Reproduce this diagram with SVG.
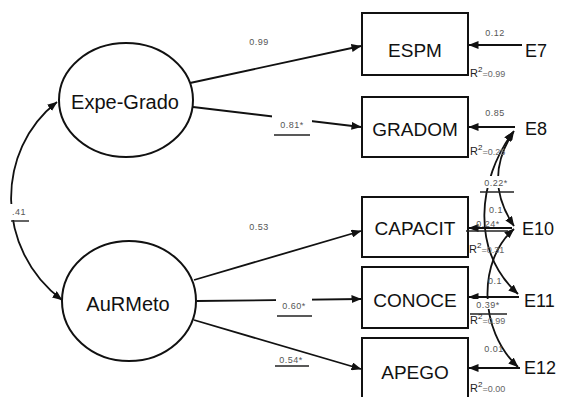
<svg xmlns="http://www.w3.org/2000/svg" width="563" height="397" viewBox="0 0 563 397">
<style>
  .node { fill: #fff; stroke: #111; stroke-width: 2; }
  .lbl { font-family: "Liberation Sans", Arial, sans-serif; fill: #111; text-anchor: middle; }
  .big { font-size: 20px; }
  .box { font-size: 19px; }
  .err { font-size: 18px; text-anchor: start; }
  .num { font-family: "Liberation Sans", Arial, sans-serif; font-size: 9px; fill: #555; text-anchor: middle; letter-spacing: 0.5px; }
  .r2 { font-family: "Liberation Sans", Arial, sans-serif; font-size: 11px; fill: #222; }
  .r2n { font-size: 9px; fill: #666; }
  .edge { fill: none; stroke: #111; stroke-width: 1.8; }
  .ul { stroke: #222; stroke-width: 1.4; }
  .bg { fill: #fff; }
</style>
<defs>
  <marker id="ah" viewBox="0 0 10 8" refX="9.5" refY="4" markerWidth="10" markerHeight="8" markerUnits="userSpaceOnUse" orient="auto-start-reverse">
    <path d="M0,0 L10,4 L0,8 Z" fill="#111"/>
  </marker>
</defs>

<g id="connectors">
  <!-- covariance between latent factors -->
  <path class="edge" d="M57,102 C-5,150 -5,250 62,300" marker-start="url(#ah)" marker-end="url(#ah)"/>
  <!-- loadings -->
  <path class="edge" d="M190,83 L361,46" marker-end="url(#ah)"/>
  <path class="edge" d="M193,107 L361,127" marker-end="url(#ah)"/>
  <path class="edge" d="M194,280 L361,231" marker-end="url(#ah)"/>
  <path class="edge" d="M197,301 L361,299" marker-end="url(#ah)"/>
  <path class="edge" d="M194,320 L361,369" marker-end="url(#ah)"/>
  <!-- error terms -->
  <path class="edge" d="M522,45 L469,45" marker-end="url(#ah)"/>
  <path class="edge" d="M515,127 L469,127" marker-end="url(#ah)"/>
  <path class="edge" d="M512,228 L469,228" marker-end="url(#ah)"/>
  <path class="edge" d="M519,297 L469,297" marker-end="url(#ah)"/>
  <path class="edge" d="M520,368 L469,368" marker-end="url(#ah)"/>
  <!-- error covariances -->
  <path class="edge" d="M514,131 Q482,179 514,226" marker-start="url(#ah)" marker-end="url(#ah)"/>
  <path class="edge" d="M513,132 C478,180 470,250 518,294" marker-start="url(#ah)" marker-end="url(#ah)"/>
  <path class="edge" d="M514,229 C478,260 478,330 518,367" marker-start="url(#ah)" marker-end="url(#ah)"/>
</g>

<g id="Expe-Grado">
  <ellipse class="node" cx="126" cy="100" rx="67" ry="57"/>
  <text class="lbl big" x="125" y="109">Expe-Grado</text>
</g>
<g id="AuRMeto">
  <ellipse class="node" cx="129" cy="301" rx="67" ry="60"/>
  <text class="lbl big" x="128" y="311">AuRMeto</text>
</g>

<g id="ESPM">
  <rect class="node" x="362" y="13" width="106" height="62"/>
  <text class="lbl box" x="415" y="57">ESPM</text>
</g>
<g id="GRADOM">
  <rect class="node" x="362" y="97" width="106" height="60"/>
  <text class="lbl box" x="415" y="136">GRADOM</text>
</g>
<g id="CAPACIT">
  <rect class="node" x="362" y="197" width="106" height="60"/>
  <text class="lbl box" x="415" y="235">CAPACIT</text>
</g>
<g id="CONOCE">
  <rect class="node" x="362" y="267" width="106" height="61"/>
  <text class="lbl box" x="415" y="307">CONOCE</text>
</g>
<g id="APEGO">
  <rect class="node" x="362" y="338" width="106" height="64"/>
  <text class="lbl box" x="415" y="379">APEGO</text>
</g>

<g id="E7"><text class="lbl err" x="525" y="57">E7</text></g>
<g id="E8"><text class="lbl err" x="525" y="135">E8</text></g>
<g id="E10"><text class="lbl err" x="522" y="235">E10</text></g>
<g id="E11"><text class="lbl err" x="524" y="307">E11</text></g>
<g id="E12"><text class="lbl err" x="524" y="374">E12</text></g>

<g id="labels">
  <!-- factor covariance -->
  <rect class="bg" x="9" y="204" width="20" height="16"/>
  <text class="num" x="19" y="215">.41</text>
  <line class="ul" x1="11" y1="221" x2="29" y2="221"/>
  <!-- loadings -->
  <text class="num" x="259" y="45">0.99</text>
  <rect class="bg" x="272" y="114" width="40" height="20"/>
  <text class="num" x="292" y="128">0.81*</text>
  <line class="ul" x1="274" y1="135" x2="310" y2="135"/>
  <text class="num" x="259" y="230">0.53</text>
  <rect class="bg" x="276" y="296" width="36" height="20"/>
  <text class="num" x="294" y="309">0.60*</text>
  <line class="ul" x1="277" y1="316" x2="312" y2="316"/>
  <text class="num" x="291" y="363">0.54*</text>
  <line class="ul" x1="275" y1="366" x2="309" y2="366"/>
  <!-- error weights -->
  <text class="num" x="495" y="36">0.12</text>
  <text class="num" x="495" y="116">0.85</text>
  <rect class="bg" x="479" y="176" width="34" height="12"/>
  <text class="num" x="496" y="186">0.22*</text>
  <line class="ul" x1="480" y1="192" x2="514" y2="192"/>
  <text class="num" x="496" y="213">0.1</text>
  <text class="num" x="488" y="227">0.24*</text>
  <line class="ul" x1="466" y1="231" x2="508" y2="231"/>
  <text class="num" x="495" y="284">0.1</text>
  <rect class="bg" x="470" y="299" width="38" height="10"/>
  <text class="num" x="488" y="308">0.39*</text>
  <line class="ul" x1="470" y1="314" x2="507" y2="314"/>
  <text class="num" x="494" y="352">0.01</text>
  <!-- R squared -->
  <text class="r2" x="470" y="77">R<tspan dy="-5" font-size="8">2</tspan><tspan dy="5" class="r2n">=0.99</tspan></text>
  <text class="r2" x="470" y="155">R<tspan dy="-5" font-size="8">2</tspan><tspan dy="5" class="r2n">=0.25</tspan></text>
  <text class="r2" x="469" y="253">R<tspan dy="-5" font-size="8">2</tspan><tspan dy="5" class="r2n">=0.31</tspan></text>
  <text class="r2" x="470" y="324">R<tspan dy="-5" font-size="8">2</tspan><tspan dy="5" class="r2n">=0.99</tspan></text>
  <text class="r2" x="470" y="392">R<tspan dy="-5" font-size="8">2</tspan><tspan dy="5" class="r2n">=0.00</tspan></text>
</g>
</svg>
